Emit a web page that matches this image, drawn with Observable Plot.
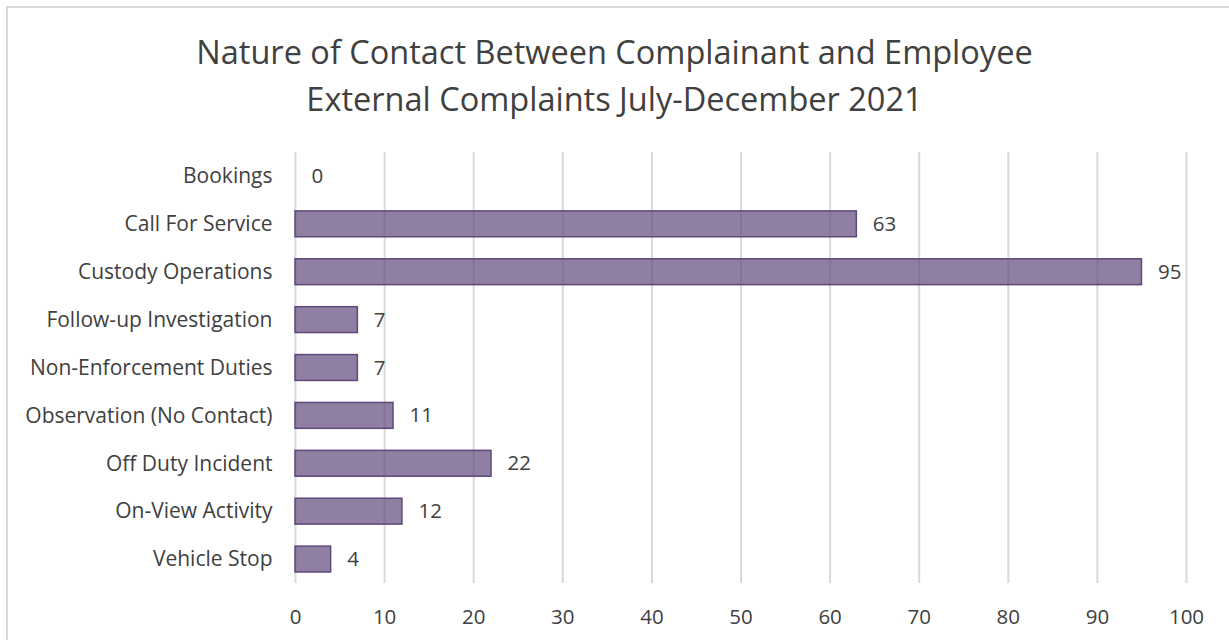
<!DOCTYPE html>
<html>
<head>
<meta charset="utf-8">
<script src="https://cdn.jsdelivr.net/npm/d3@7"></script>
<script src="https://cdn.jsdelivr.net/npm/@observablehq/plot@0.6"></script>
<style>
  html, body { margin: 0; padding: 0; background: #fff; overflow: hidden; }
  body { width: 1229px; height: 640px; position: relative; font-family: "Open Sans", sans-serif; }
  #frame { position: absolute; left: 6px; top: 6px; width: 1240px; height: 700px; border: 2px solid #d9d9d9; box-sizing: border-box; }
  #title { position: absolute; left: 0; top: 0; width: 1229px; height: 130px; text-align: center; color: #404040; font-size: 32.5px; line-height: 47px; padding-top: 28px; box-sizing: border-box; }
  #chart { position: absolute; left: 0; top: 130px; }
</style>
</head>
<body>
<div id="frame"></div>
<div id="title">Nature of Contact Between Complainant and Employee<br>External Complaints July-December 2021</div>
<div id="chart"></div>
<script>
const categories = ["Bookings", "Call For Service", "Custody Operations", "Follow-up Investigation", "Non-Enforcement Duties", "Observation (No Contact)", "Off Duty Incident", "On-View Activity", "Vehicle Stop"];
const counts = [0, 63, 95, 7, 7, 11, 22, 12, 4];
const xTicks = [0, 10, 20, 30, 40, 50, 60, 70, 80, 90, 100];

const data = categories.map((c, i) => ({category: c, count: counts[i]}));

const plot = Plot.plot({
  width: 1229,
  height: 510,
  marginLeft: 295,
  marginRight: 43,
  marginTop: 22,
  marginBottom: 57,
  style: {fontFamily: "'Open Sans', sans-serif", fontSize: "21px", color: "#404040", background: "transparent"},
  x: {domain: [0, 100], ticks: xTicks, label: null},
  y: {domain: categories, label: null, paddingInner: 0.46, paddingOuter: 0.23, round: false},
  marks: [
    Plot.ruleX(xTicks, {stroke: "#d9d9d9", strokeWidth: 2}),
    Plot.barX(data, {y: "category", x: "count", fill: "#60497a", fillOpacity: 0.7, stroke: "#60497a", strokeWidth: 1.5}),
    Plot.text(data, {y: "category", x: "count", text: d => String(d.count), textAnchor: "start", dx: 16, fontSize: 20.5, fill: "#404040"}),
    Plot.axisX({ticks: xTicks, tickSize: 0, tickPadding: 26, fontSize: 20.5, color: "#404040", label: null}),
    Plot.axisY({tickSize: 0, tickPadding: 23, fontSize: 21, color: "#404040", label: null})
  ]
});
document.getElementById("chart").appendChild(plot);
</script>
</body>
</html>
